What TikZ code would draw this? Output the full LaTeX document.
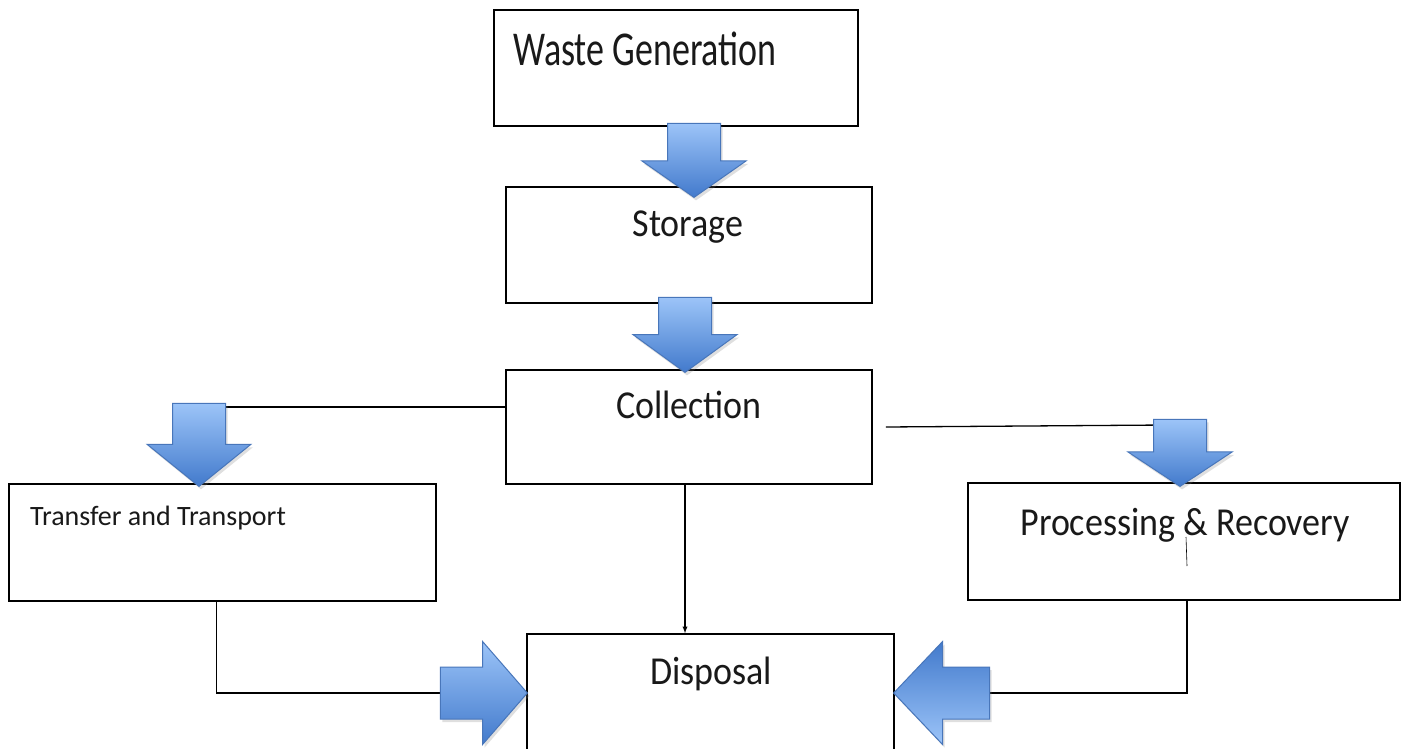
\documentclass[tikz,border=0pt]{standalone}
\usepackage{fontspec}
\setmainfont{Carlito}
\usepackage{graphicx}
\usetikzlibrary{shapes.arrows,shadows,arrows,backgrounds}
\definecolor{arrlight}{RGB}{156,196,248}
\definecolor{arrdark}{RGB}{66,122,204}
\definecolor{arredge}{RGB}{72,118,186}
\newcommand{\tall}[2][1.1]{\scalebox{1}[#1]{#2}}
\tikzset{
    stage/.style={
        draw,
        line width=1.5pt,
        rectangle,
        inner sep=0pt
    },
    stagetext/.style={
        anchor=base,
        inner sep=0pt,
        text=black!90,
        font=\fontsize{36}{40}\selectfont
    },
    flow/.style={
        single arrow,
        draw=arredge,
        line width=1pt,
        top color=arrlight,
        bottom color=arrdark,
        inner sep=0pt,
        single arrow head extend=25.5pt,
        anchor=tip,
        drop shadow={opacity=0.25,shadow xshift=2pt,shadow yshift=-3pt}
    },
    flowdown/.style={
        flow,
        shape border rotate=270,
        inner xsep=26pt
    },
    flowside/.style={
        flow,
        inner ysep=25.5pt
    },
    link/.style={
        line width=1.3pt
    }
}

\begin{document}
\begin{tikzpicture}[x=1pt,y=-1pt]
  \begin{scope}[on background layer]
    \fill[white] (0,0) rectangle (1410,749);
  \end{scope}
  \clip (0,0) rectangle (1410,749);

  % stages
  \node[stage, minimum width=364pt, minimum height=116pt] (wg) at (676,68) {};
  \node[stage, minimum width=366pt, minimum height=116pt] (st) at (689,245) {};
  \node[stage, minimum width=366pt, minimum height=114pt] (coll) at (689,427) {};
  \node[stage, minimum width=427pt, minimum height=117pt] (trans) at (222.5,542.5) {};
  \node[stage, minimum width=432pt, minimum height=117pt] (proc) at (1184,541.5) {};
  \node[stage, minimum width=367pt, minimum height=126pt] (disp) at (710.5,697) {};

  \node[stagetext, anchor=base west] (wgT) at (513,66) {\tall[1.35]{Waste Generation}};
  \node[stagetext] (stT) at (688,236) {\tall{Storage}};
  \node[stagetext] (collT) at (689,418) {\tall{Collection}};
  \node[stagetext, anchor=base west, font=\fontsize{28}{32}\selectfont] (transT) at (30,525) {Transfer and Transport};
  \node[stagetext] (procT) at (1185,535) {\tall{Processing \& Recovery}};
  \node[stagetext] (dispT) at (711,684) {\tall{Disposal}};
  \draw[line width=0.6pt] (1186,537) -- (1187,566);

  % block arrows
  \node[flowdown, minimum height=74pt, single arrow tip angle=110] (a1) at (694,198) {};
  \node[flowdown, minimum height=75pt, single arrow tip angle=108] (a2) at (685,373) {};
  \node[flowdown, minimum height=83pt, single arrow tip angle=102] (a3) at (199,487) {};
  \node[flowdown, minimum height=67pt, single arrow tip angle=113] (a4) at (1180,487) {};
  \node[flowside, minimum height=87pt, single arrow tip angle=98] (a5) at (528,693) {};
  \node[flowside, shape border rotate=180, minimum height=96pt,
        single arrow tip angle=93, top color=arrdark, bottom color=arrlight] (a6) at (893,693) {};

  % connectors
  \begin{scope}[on background layer]
    \coordinate (a3in) at ([yshift=-4pt]a3.tail);
    \draw[link] (coll.west |- a3in) -- (a3in);
    \draw[link] ([xshift=13pt]coll.east) -- ([yshift=-6pt]a4.tail);
    \draw[link,-latex] ([xshift=-4pt]coll.south) -- ([xshift=-4pt]coll.south |- disp.north);
    \draw[link] ([xshift=-6pt]trans.south) |- (a5.tail);
    \draw[link] ([xshift=3pt]proc.south) |- (a6.tail);
  \end{scope}
\end{tikzpicture}
\end{document}
